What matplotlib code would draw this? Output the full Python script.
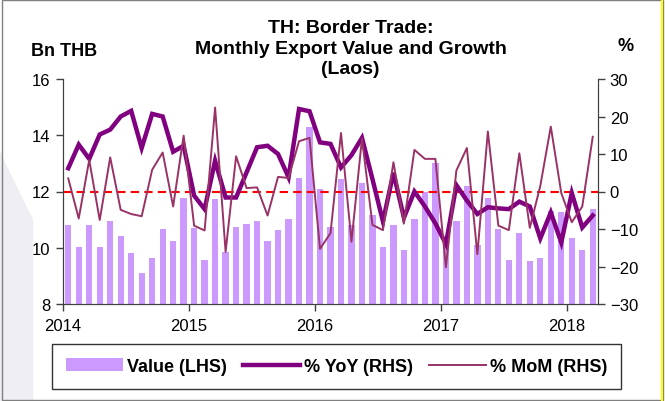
import numpy as np
import matplotlib
matplotlib.use("Agg")
from matplotlib import pyplot as plt
from matplotlib.patches import Rectangle, Polygon
from matplotlib.lines import Line2D

plt.rcParams['font.family'] = ['Liberation Sans', 'DejaVu Sans']

# monthly data, Jan 2014 - Mar 2018
value = [10.82, 10.04, 10.82, 10.04, 10.95, 10.42, 9.81, 9.12, 9.63, 10.66, 10.24, 11.78,
         10.71, 9.56, 11.74, 9.84, 10.75, 10.86, 10.95, 10.24, 10.63, 11.02, 12.48, 14.30,
         12.09, 10.75, 12.44, 10.80, 12.32, 11.17, 10.04, 10.82, 9.92, 11.02, 12.00, 13.03,
         10.40, 10.95, 12.20, 10.10, 11.78, 10.66, 9.56, 10.51, 9.52, 9.63, 11.29, 11.26,
         10.34, 9.92, 11.37]
yoy = [6.2, 12.5, 8.7, 15.2, 16.5, 20.0, 21.5, 11.6, 20.7, 20.0, 10.6, 12.2,
       -1.1, -4.7, 8.2, -1.6, -1.6, 5.1, 11.8, 12.2, 10.0, 3.8, 22.0, 21.4,
       13.1, 12.7, 6.4, 9.7, 14.3, 3.3, -8.0, 5.0, -7.0, 0.0, -4.0, -8.5,
       -14.0, 1.7, -2.4, -6.0, -4.2, -4.5, -4.7, -2.7, -4.0, -12.5, -5.6, -13.6,
       -0.4, -9.6, -6.4]
mom = [3.5, -7.2, 8.4, -7.6, 9.1, -4.9, -6.0, -6.6, 5.8, 10.4, -4.0, 14.9,
       -9.1, -10.4, 22.4, -16.1, 9.4, 0.9, 1.1, -6.4, 3.9, 3.6, 13.4, 14.3,
       -15.3, -11.1, 15.6, -13.4, 14.2, -8.9, -10.3, 7.8, -8.5, 11.1, 8.7, 8.7,
       -20.2, 5.6, 11.6, -16.7, 16.0, -9.1, -10.3, 10.2, -9.7, 1.5, 17.3, -0.4,
       -8.2, -4.0, 14.6]
years = ['2014', '2015', '2016', '2017', '2018']

x = np.arange(len(value)) + 0.5

fig = plt.figure(figsize=(6.65, 4.02), dpi=100)

# faint background shape on the left, plus frame
fig.patches.append(Polygon([(0, 0.62), (0.05, 0.45), (0.05, 0.0), (0, 0.0)], closed=True,
                           transform=fig.transFigure, facecolor='#EEEEF4', edgecolor='none'))
fig.patches.append(Rectangle((0.003, 0.003), 0.994, 0.994, transform=fig.transFigure,
                             fill=False, edgecolor='#808080', lw=1))
fig.lines.append(Line2D([0.996, 0.996], [0, 1], transform=fig.transFigure, color='#FFFF00', lw=1.5))

ax = fig.add_axes([63/665, 1-305/402, (598-63)/665, 225/402])
ax.patch.set_alpha(0)
ax2 = ax.twinx()

bars = ax.bar(x, value, width=0.6, color='#CC99FF', label='Value (LHS)', zorder=2)
ax.set_ylim(8, 16)
ax.set_yticks([8, 10, 12, 14, 16])
ax.set_xlim(0, 51)
ax.set_xticks([0, 12, 24, 36, 48])
ax.set_xticklabels(years)

ax2.axhline(0, color='#FF0000', lw=1.5, ls=(0, (4, 2.5)), zorder=1)
l1, = ax2.plot(x, yoy, color='#800080', lw=3.2, label='% YoY (RHS)', solid_joinstyle='miter')
l2, = ax2.plot(x, mom, color='#993366', lw=1.4, label='% MoM (RHS)')
ax2.set_ylim(-30, 30)
ax2.set_yticks(range(-30, 31, 10))

for a in (ax, ax2):
    a.spines['top'].set_visible(False)
    for s in a.spines.values():
        s.set_color('#404040')
    a.tick_params(labelsize=12, color='#404040', length=5, width=1)
ax.tick_params(axis='y', pad=4)
ax.tick_params(axis='x', pad=5)

fig.text(0.527, 0.95, 'TH: Border Trade:\nMonthly Export Value and Growth\n(Laos)',
         ha='center', va='top', fontsize=14, fontweight='bold', linespacing=1.27)
fig.text(0.047, 0.872, 'Bn THB', fontsize=13, fontweight='bold', va='center')
fig.text(0.94, 0.885, '%', fontsize=13, fontweight='bold', va='center', ha='center')

leg = fig.legend([bars, l1, l2], ['Value (LHS)', '% YoY (RHS)', '% MoM (RHS)'],
                 loc='center', bbox_to_anchor=(43/665, 1-392/402, 587/665, 49/402),
                 ncol=3, mode='expand', frameon=True, fancybox=False, handlelength=3.2,
                 handletextpad=0.2, borderpad=0.75, prop={'weight': 'bold', 'size': 13})
leg.get_frame().set_edgecolor('black')
leg.get_frame().set_linewidth(1)

fig.savefig('out.png', dpi=100)
